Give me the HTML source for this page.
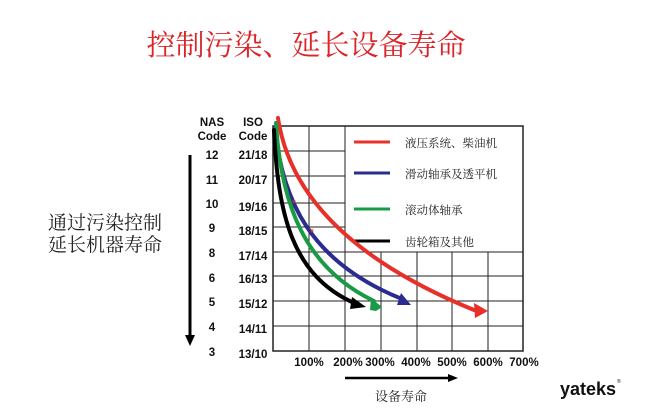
<!DOCTYPE html>
<html><head><meta charset="utf-8"><style>
html,body{margin:0;padding:0;background:#fff;}
svg{display:block;}
.t{font-family:"Liberation Sans","Noto Sans CJK SC",sans-serif;}
</style></head><body>
<svg width="650" height="408" viewBox="0 0 650 408" xmlns="http://www.w3.org/2000/svg">
<rect width="650" height="408" fill="#fff"/>
<text x="306" y="55" text-anchor="middle" font-family="'Noto Serif CJK SC',serif" font-size="29" fill="#d9242a">控制污染、延长设备寿命</text>
<g font-family="'Noto Serif CJK SC',serif" font-size="19" fill="#222">
<text x="48" y="229">通过污染控制</text>
<text x="48" y="251">延长机器寿命</text>
</g>
<line x1="190" y1="155" x2="190" y2="336" stroke="#000" stroke-width="3"/>
<polygon points="185,335 195,335 190,346" fill="#000"/>
<g stroke="#222" stroke-width="1">
<line x1="273" y1="151" x2="345" y2="151"/>
<line x1="273" y1="176" x2="345" y2="176"/>
<line x1="273" y1="203" x2="345" y2="203"/>
<line x1="273" y1="227" x2="345" y2="227"/>
<line x1="273" y1="252" x2="523" y2="252"/>
<line x1="273" y1="276" x2="523" y2="276"/>
<line x1="273" y1="301" x2="523" y2="301"/>
<line x1="273" y1="326" x2="523" y2="326"/>
<line x1="309" y1="126" x2="309" y2="351"/>
<line x1="345" y1="126" x2="345" y2="351"/>
<line x1="381" y1="252" x2="381" y2="351"/>
<line x1="417" y1="252" x2="417" y2="351"/>
<line x1="452" y1="252" x2="452" y2="351"/>
<line x1="488" y1="252" x2="488" y2="351"/>
<rect x="273" y="126" width="250" height="225" fill="none" stroke-width="1.5"/>
</g>
<g stroke-width="3">
<line x1="354" y1="142" x2="390" y2="142" stroke="#e8302a"/>
<line x1="354" y1="173" x2="390" y2="173" stroke="#2b2c8f"/>
<line x1="354" y1="209" x2="390" y2="209" stroke="#1a9a45"/>
<line x1="354" y1="241" x2="390" y2="241" stroke="#000"/>
</g>
<g font-size="11.5" fill="#222" font-family="'Noto Serif CJK SC',serif">
<text x="405" y="147">液压系统、柴油机</text>
<text x="405" y="178">滑动轴承及透平机</text>
<text x="405" y="214">滚动体轴承</text>
<text x="405" y="246">齿轮箱及其他</text>
</g>
<g class="t" font-size="11.5" font-weight="bold" fill="#111" text-anchor="middle">
<text x="212" y="126">NAS</text><text x="212" y="140">Code</text>
<text x="253" y="126">ISO</text><text x="253" y="140">Code</text>
<text x="212" y="159">12</text><text x="253" y="159">21/18</text>
<text x="212" y="184">11</text><text x="253" y="184">20/17</text>
<text x="212" y="208">10</text><text x="253" y="211">19/16</text>
<text x="212" y="232">9</text><text x="253" y="235">18/15</text>
<text x="212" y="257">8</text><text x="253" y="260">17/14</text>
<text x="212" y="282">6</text><text x="253" y="283">16/13</text>
<text x="212" y="306">5</text><text x="253" y="308">15/12</text>
<text x="212" y="331">4</text><text x="253" y="333">14/11</text>
<text x="212" y="356">3</text><text x="253" y="358">13/10</text>
<text x="309" y="366">100%</text><text x="348" y="366">200%</text>
<text x="380" y="366">300%</text><text x="416" y="366">400%</text>
<text x="452" y="366">500%</text><text x="488" y="366">600%</text>
<text x="524" y="366">700%</text>
</g>
<g fill="none" stroke-width="4" stroke-linecap="round">
<path d="M278,118 C285,165 315,245 474,310" stroke="#e8302a"/>
<path d="M275,128 C282,200 310,262 402,299" stroke="#2b2c8f"/>
<path d="M276,123 C281,205 305,268 374,301" stroke="#1a9a45"/>
<path d="M274,130 C278,215 292,275 354,303" stroke="#000"/>
</g>
<polygon points="474,303 488,311 475,318" fill="#e8302a"/>
<polygon points="401,293 411,305 397,305" fill="#2b2c8f"/>
<polygon points="371,298 382,307 376,311 370,310" fill="#1a9a45"/>
<polygon points="352,297 366,307 350,309" fill="#000"/>
<text x="294" y="207" font-size="11" fill="#e8302a" text-anchor="middle" font-family="Liberation Sans,sans-serif">*</text>
<text x="312" y="236" font-size="11" fill="#e8302a" text-anchor="middle" font-family="Liberation Sans,sans-serif">*</text>
<line x1="345" y1="378" x2="450" y2="378" stroke="#000" stroke-width="2.5"/>
<polygon points="448,374 458,378 448,382" fill="#000"/>
<text x="401" y="401" text-anchor="middle" font-family="'Noto Serif CJK SC',serif" font-size="13" fill="#222">设备寿命</text>
<text x="560" y="395" font-family="Liberation Sans,sans-serif" font-size="18" font-weight="bold" fill="#111">yateks</text>
<text x="617" y="383" font-family="Liberation Sans,sans-serif" font-size="5" fill="#111">®</text>
</svg>
</body></html>
